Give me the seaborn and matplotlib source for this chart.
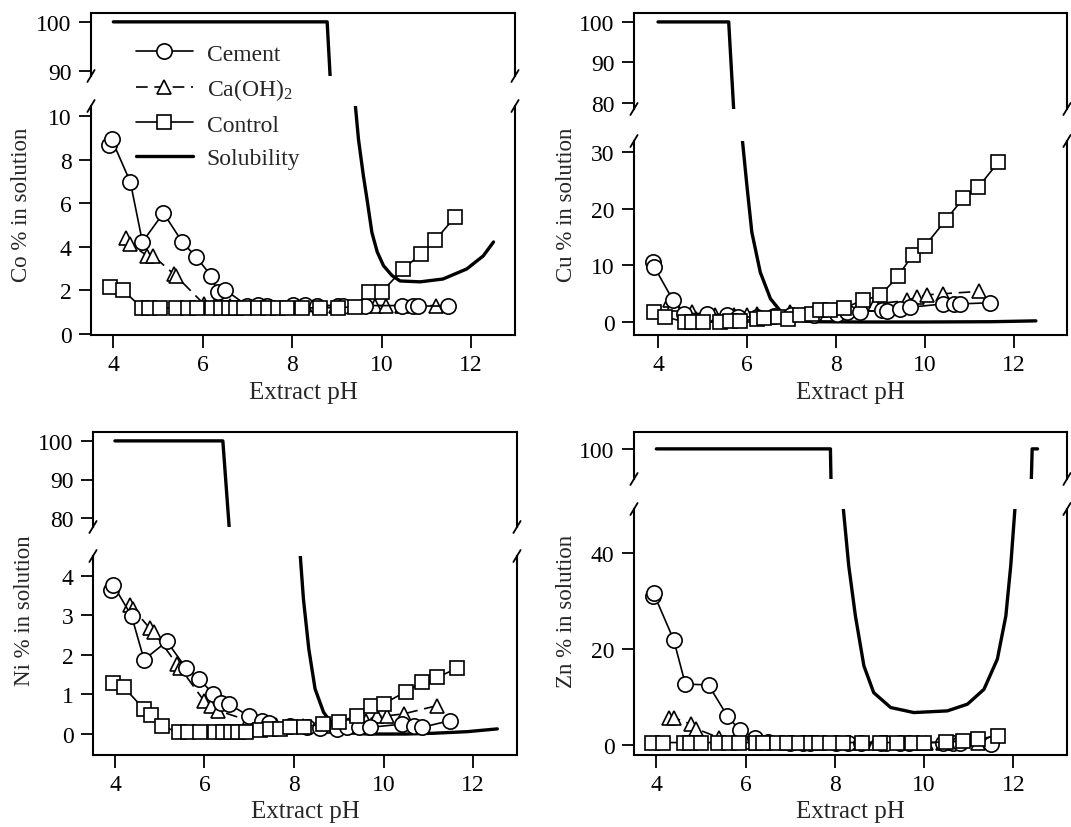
import numpy as np
import pandas as pd
import matplotlib
matplotlib.use("Agg")
import matplotlib.pyplot as plt
import seaborn as sns
from matplotlib.lines import Line2D

# ---------------- data ----------------
co_cem_ph = [3.91, 3.96, 4.38, 4.65, 5.12, 5.54, 5.85, 6.19, 6.33, 6.50, 6.99, 7.24, 7.44, 8.02, 8.29, 8.56, 9.03, 9.14, 9.63, 10.46, 10.70, 10.82, 11.49]
co_cem = [8.67, 8.94, 6.97, 4.22, 5.55, 4.22, 3.53, 2.66, 1.93, 2.02, 1.30, 1.32, 1.30, 1.32, 1.32, 1.30, 1.30, 1.30, 1.30, 1.30, 1.30, 1.28, 1.28]
co_ca_ph = [4.29, 4.38, 4.76, 4.89, 5.35, 5.40, 6.02, 6.27, 6.60, 7.00, 7.40, 8.04, 8.61, 8.97, 9.62, 9.84, 10.09, 10.45, 11.21]
co_ca = [4.40, 4.13, 3.58, 3.58, 2.75, 2.66, 1.38, 1.33, 1.30, 1.30, 1.30, 1.30, 1.30, 1.30, 1.30, 1.30, 1.30, 1.30, 1.30]
co_ctl_ph = [3.93, 4.22, 4.64, 4.80, 5.05, 5.39, 5.67, 5.88, 6.21, 6.41, 6.59, 6.75, 6.91, 7.23, 7.46, 7.68, 7.88, 8.22, 8.63, 9.02, 9.41, 9.72, 10.00, 10.48, 10.88, 11.20, 11.64]
co_ctl = [2.15, 2.00, 1.19, 1.19, 1.19, 1.19, 1.19, 1.19, 1.19, 1.19, 1.19, 1.19, 1.19, 1.19, 1.19, 1.19, 1.19, 1.19, 1.20, 1.20, 1.25, 1.93, 1.93, 2.98, 3.67, 4.31, 5.37]
co_sol_ph = [4.0, 8.78, 8.90, 9.41, 9.48, 9.59, 9.67, 9.78, 9.90, 10.04, 10.23, 10.41, 10.86, 11.37, 11.90, 12.27, 12.50]
co_sol = [100, 100, 80, 10.5, 8.94, 7.26, 6.2, 4.66, 3.76, 3.13, 2.68, 2.43, 2.39, 2.52, 2.98, 3.58, 4.22]

cu_cem_ph = [3.89, 3.92, 4.34, 4.58, 5.10, 5.55, 5.81, 6.23, 6.60, 7.00, 7.50, 8.03, 8.25, 8.55, 9.04, 9.15, 9.45, 9.67, 10.42, 10.65, 10.80, 11.47]
cu_cem = [10.6, 9.7, 3.8, 1.5, 1.5, 1.2, 0.9, 0.9, 1.0, 1.2, 1.3, 1.5, 1.8, 1.8, 2.1, 1.9, 2.35, 2.6, 3.2, 3.2, 3.2, 3.4]
cu_ca_ph = [4.28, 4.35, 4.76, 5.29, 5.70, 6.00, 6.23, 6.98, 7.65, 8.51, 8.89, 9.60, 9.82, 10.05, 10.42, 11.21]
cu_ca = [3.8, 3.2, 1.8, 1.2, 1.2, 1.3, 1.5, 1.8, 2.1, 2.5, 3.2, 3.8, 4.4, 4.8, 5.0, 5.4]
cu_ctl_ph = [3.90, 4.16, 4.61, 4.76, 5.01, 5.39, 5.63, 5.85, 6.23, 6.38, 6.71, 6.92, 7.20, 7.46, 7.65, 7.88, 8.19, 8.60, 9.00, 9.40, 9.73, 10.00, 10.48, 10.87, 11.20, 11.65]
cu_ctl = [1.8, 0.9, 0.0, 0.0, 0.0, 0.0, 0.1, 0.2, 0.5, 0.7, 0.9, 0.6, 1.2, 1.5, 2.1, 2.2, 2.5, 3.8, 4.7, 8.1, 11.9, 13.4, 18.1, 21.9, 23.8, 28.2]
cu_sol_ph = [4.0, 5.59, 5.72, 5.90, 6.00, 6.11, 6.30, 6.53, 6.83, 7.13, 7.50, 8.50, 10.00, 11.50, 12.50]
cu_sol = [100, 100, 75, 32, 24.1, 15.9, 8.8, 4.1, 1.2, 0.3, 0.05, 0.0, 0.0, 0.05, 0.2]

ni_cem_ph = [3.91, 3.96, 4.37, 4.65, 5.16, 5.58, 5.88, 6.20, 6.36, 6.54, 7.00, 7.28, 7.45, 7.91, 8.29, 8.59, 8.96, 9.18, 9.44, 9.70, 10.41, 10.67, 10.86, 11.49]
ni_cem = [3.65, 3.77, 2.99, 1.88, 2.34, 1.68, 1.39, 1.01, 0.78, 0.76, 0.45, 0.34, 0.29, 0.21, 0.17, 0.15, 0.13, 0.17, 0.17, 0.17, 0.25, 0.21, 0.17, 0.34]
ni_ca_ph = [4.34, 4.41, 4.78, 4.87, 5.38, 5.45, 5.99, 6.14, 6.31, 6.98, 7.60, 8.20, 8.80, 9.61, 9.85, 10.08, 10.45, 11.20]
ni_ca = [3.26, 3.16, 2.67, 2.57, 1.77, 1.68, 0.84, 0.72, 0.59, 0.34, 0.22, 0.20, 0.20, 0.34, 0.46, 0.46, 0.51, 0.72]
ni_ctl_ph = [3.95, 4.20, 4.65, 4.80, 5.04, 5.42, 5.64, 5.89, 6.24, 6.42, 6.59, 6.74, 6.93, 7.23, 7.47, 7.68, 7.90, 8.23, 8.64, 9.00, 9.41, 9.72, 10.00, 10.49, 10.86, 11.20, 11.63]
ni_ctl = [1.29, 1.18, 0.63, 0.48, 0.21, 0.04, 0.04, 0.04, 0.04, 0.04, 0.04, 0.06, 0.06, 0.10, 0.13, 0.13, 0.17, 0.19, 0.25, 0.31, 0.46, 0.72, 0.76, 1.07, 1.31, 1.43, 1.66]
ni_sol_ph = [4.0, 6.41, 6.60, 8.14, 8.21, 8.33, 8.47, 8.66, 8.88, 9.11, 9.63, 10.50, 11.12, 11.87, 12.54]
ni_sol = [100, 100, 70, 4.5, 3.41, 2.15, 1.14, 0.55, 0.21, 0.04, 0.0, 0.0, 0.02, 0.06, 0.13]

zn_cem_ph = [3.93, 3.94, 4.39, 4.65, 5.17, 5.59, 5.87, 6.22, 6.50, 7.00, 7.28, 7.45, 8.03, 8.29, 8.59, 9.04, 9.15, 9.45, 9.67, 10.42, 10.65, 10.80, 11.49]
zn_cem = [31.0, 31.6, 21.9, 12.7, 12.5, 6.05, 3.06, 1.53, 0.7, 0.5, 0.5, 0.5, 0.5, 0.5, 0.5, 0.5, 0.5, 0.5, 0.5, 0.5, 0.4, 0.3, 0.2]
zn_ca_ph = [4.28, 4.39, 4.78, 4.89, 5.40, 6.00, 6.23, 6.98, 7.65, 8.51, 8.89, 9.60, 9.82, 10.05, 10.42, 11.21]
zn_ca = [5.7, 5.7, 4.3, 3.4, 1.5, 0.6, 0.5, 0.5, 0.5, 0.5, 0.5, 0.5, 0.5, 0.5, 0.5, 0.5]
zn_ctl_ph = [3.90, 4.16, 4.61, 4.76, 5.01, 5.39, 5.63, 5.85, 6.23, 6.38, 6.71, 6.92, 7.20, 7.46, 7.65, 7.88, 8.19, 8.60, 9.00, 9.40, 9.73, 10.00, 10.48, 10.87, 11.20, 11.65]
zn_ctl = [0.5, 0.5, 0.5, 0.5, 0.5, 0.5, 0.5, 0.5, 0.5, 0.5, 0.5, 0.5, 0.5, 0.5, 0.5, 0.5, 0.5, 0.5, 0.5, 0.5, 0.5, 0.5, 0.6, 0.8, 1.2, 1.9]
zn_sol_ph = [4.0, 7.90, 7.92, 8.19, 8.31, 8.46, 8.65, 8.87, 9.25, 9.77, 10.52, 10.97, 11.34, 11.64, 11.83, 11.94, 12.03, 12.39, 12.42, 12.54]
zn_sol = [100, 100, 90, 49.2, 37.4, 26.9, 16.5, 10.9, 7.8, 6.75, 7.1, 8.5, 11.6, 17.9, 26.9, 37.4, 48.8, 90, 100, 100]

x_ticks = [4, 6, 8, 10, 12]
series_labels = ["Cement", "Ca(OH)$_2$", "Control", "Solubility"]

# ---------------- style ----------------
sns.set_theme(style="ticks")
plt.rcParams["font.family"] = ["Liberation Serif", "DejaVu Serif"]
plt.rcParams["mathtext.fontset"] = "custom"
plt.rcParams["mathtext.rm"] = "Liberation Serif"
plt.rcParams["mathtext.it"] = "Liberation Serif:italic"
plt.rcParams["axes.linewidth"] = 1.4

W, H = 1071, 828
fig = plt.figure(figsize=(W / 100, H / 100), dpi=100)
fig.patch.set_facecolor("white")

TICK_FS = 17
LAB_FS = 16.5
XLAB_FS = 18
MS_O, MS_T, MS_S = 11, 10.5, 10
MEW = 1.2
DLW = 1.2


def add_ax(l, t, r, b):
    return fig.add_axes([l / W, 1 - b / H, (r - l) / W, (b - t) / H])


def style_ax(ax):
    ax.set_facecolor("none")
    ax.tick_params(axis="both", direction="out", length=9, width=1.3,
                   labelsize=TICK_FS, color="black", labelcolor="black", pad=5)
    for s in ax.spines.values():
        s.set_color("black")
        s.set_linewidth(1.5)
    ax.grid(False)


def brk(xp, yp, d=6):
    fig.add_artist(Line2D([(xp - d * 0.6) / W, (xp + d * 0.6) / W],
                          [1 - (yp + d) / H, 1 - (yp - d) / H],
                          color="black", lw=1.3, transform=fig.transFigure))


def panel(box, xlim, top_ylim, top_ticks, bot_ylim, bot_ticks, data, sol, ylabel, ylab_pos, xlab_y):
    l, r, t1, b1, t2, b2 = box
    axt = add_ax(l, t1, r, b1)
    axb = add_ax(l, t2, r, b2)
    for ax in (axt, axb):
        style_ax(ax)

    sol_ph, sol_v = sol
    for ax in (axt, axb):
        sns.lineplot(x=sol_ph, y=sol_v, ax=ax, color="black", lw=2.4, sort=False,
                     estimator=None, zorder=2, legend=False)
    (cph, cv), (aph, av), (kph, kv) = data
    sns.lineplot(x=aph, y=av, ax=axb, color="black", lw=DLW, sort=False, estimator=None,
                 marker="^", markersize=MS_T, markerfacecolor="white", markeredgecolor="black",
                 markeredgewidth=MEW, linestyle=(0, (7, 4)), zorder=3, legend=False)
    sns.lineplot(x=cph, y=cv, ax=axb, color="black", lw=DLW, sort=False, estimator=None,
                 marker="o", markersize=MS_O, markerfacecolor="white", markeredgecolor="black",
                 markeredgewidth=MEW, zorder=4, legend=False)
    sns.lineplot(x=kph, y=kv, ax=axb, color="black", lw=DLW, sort=False, estimator=None,
                 marker="s", markersize=MS_S, markerfacecolor="white", markeredgecolor="black",
                 markeredgewidth=MEW, zorder=5, legend=False)

    for ax in (axt, axb):
        ax.set_xlabel("")
        ax.set_ylabel("")
        ax.set_xlim(*xlim)
    axt.set_ylim(*top_ylim)
    axt.set_yticks(top_ticks)
    axt.set_xticks([])
    axt.spines["bottom"].set_visible(False)
    axb.set_ylim(*bot_ylim)
    axb.set_yticks(bot_ticks)
    axb.set_xticks(x_ticks)
    axb.spines["top"].set_visible(False)

    for xp in (l, r):
        brk(xp, b1)
        brk(xp, t2)
    fig.text(ylab_pos[0] / W, 1 - ylab_pos[1] / H, ylabel, rotation=90, fontsize=LAB_FS,
             ha="center", va="center")
    fig.text((l + r) / 2 / W, 1 - xlab_y / H, "Extract pH", fontsize=XLAB_FS, ha="center", va="center")
    return axt, axb


# Co
panel((91, 515, 14, 77, 107, 336), (3.5, 12.98), (89, 101.8), [90, 100],
      (-0.05, 10.46), [0, 2, 4, 6, 8, 10],
      ((co_cem_ph, co_cem), (co_ca_ph, co_ca), (co_ctl_ph, co_ctl)),
      (co_sol_ph, co_sol), "Co % in solution", (22, 205), 393)
# Cu
panel((634, 1067, 14, 110, 142, 336), (3.46, 13.2), (78.5, 102.2), [80, 90, 100],
      (-2.3, 32), [0, 10, 20, 30],
      ((cu_cem_ph, cu_cem), (cu_ca_ph, cu_ca), (cu_ctl_ph, cu_ctl)),
      (cu_sol_ph, cu_sol), "Cu % in solution", (566, 205), 393)
# Ni
panel((93, 517, 433, 528, 557, 756), (3.51, 12.98), (77.7, 102.3), [80, 90, 100],
      (-0.53, 4.5), [0, 1, 2, 3, 4],
      ((ni_cem_ph, ni_cem), (ni_ca_ph, ni_ca), (ni_ctl_ph, ni_ctl)),
      (ni_sol_ph, ni_sol), "Ni % in solution", (25, 611), 812)
# Zn
panel((634, 1067, 433, 480, 510, 756), (3.5, 13.2), (93.75, 103.5), [100],
      (-2.1, 49.2), [0, 20, 40],
      ((zn_cem_ph, zn_cem), (zn_ca_ph, zn_ca), (zn_ctl_ph, zn_ctl)),
      (zn_sol_ph, zn_sol), "Zn % in solution", (566, 611), 812)

# legend
handles = [
    Line2D([], [], color="black", lw=DLW, marker="o", markersize=MS_O, markerfacecolor="white", markeredgewidth=MEW),
    Line2D([], [], color="black", lw=DLW, linestyle=(0, (7, 4)), marker="^", markersize=MS_T, markerfacecolor="white", markeredgewidth=MEW),
    Line2D([], [], color="black", lw=DLW, marker="s", markersize=MS_S, markerfacecolor="white", markeredgewidth=MEW),
    Line2D([], [], color="black", lw=2.4),
]
fig.legend(handles, series_labels, loc="upper left", bbox_to_anchor=(136 / W, 1 - 44 / H),
           bbox_transform=fig.transFigure, frameon=False, fontsize=17, handlelength=2.4,
           handletextpad=0.6, labelspacing=0.5, borderpad=0, borderaxespad=0)

fig.savefig("out.png", dpi=100, facecolor="white")
